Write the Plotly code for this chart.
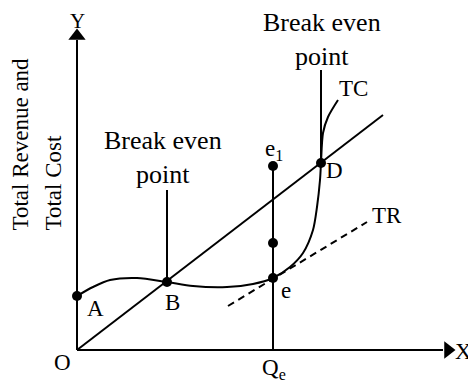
import plotly.graph_objects as go

# Chart units: origin O at (0, 0), quantity to the right, money upwards
tc_x = [0, 16, 33, 60, 90, 116, 150, 176, 196, 213, 226, 236, 240, 243, 244, 246, 251, 261]
tc_y = [54, 63, 70, 72, 68, 64, 63, 66, 72, 83, 97, 120, 143, 170, 187, 217, 233, 250]

tr_x = [0, 306]
tr_y = [0, 235]

tangent_x = [151, 290]
tangent_y = [44, 128]

dots_x = [0, 90, 196, 244, 196, 196]
dots_y = [54, 68, 72, 187, 184, 107]

bep_left_x = [90, 90]
bep_left_y = [68, 160]
bep_right_x = [244, 244]
bep_right_y = [187, 280]
qe_x = [196, 196]
qe_y = [0, 184]

x_axis_end = 378
y_axis_end = 322

BLACK = "black"
FONT = "Liberation Serif"

fig = go.Figure()

def line(x, y, dash="solid"):
    fig.add_trace(go.Scatter(x=x, y=y, mode="lines",
                             line=dict(color=BLACK, width=2, dash=dash),
                             hoverinfo="skip", showlegend=False))

# axes
line([0, x_axis_end - 12], [0, 0])
line([0, 0], [0, y_axis_end - 12])
fig.add_trace(go.Scatter(x=[x_axis_end - 7], y=[0], mode="markers",
                         marker=dict(symbol="triangle-right", size=15, color=BLACK),
                         hoverinfo="skip", showlegend=False))
fig.add_trace(go.Scatter(x=[0], y=[y_axis_end - 8], mode="markers",
                         marker=dict(symbol="triangle-up", size=15, color=BLACK),
                         hoverinfo="skip", showlegend=False))

# TR, tangent, TC
line(tr_x, tr_y)
line(tangent_x, tangent_y, dash="7px,5px")
fig.add_trace(go.Scatter(x=tc_x, y=tc_y, mode="lines",
                         line=dict(color=BLACK, width=2, shape="spline", smoothing=0.8),
                         hoverinfo="skip", showlegend=False))

# guide lines
line(bep_left_x, bep_left_y)
line(bep_right_x, bep_right_y)
line(qe_x, qe_y)

fig.add_trace(go.Scatter(x=dots_x, y=dots_y, mode="markers",
                         marker=dict(size=10, color=BLACK),
                         hoverinfo="skip", showlegend=False))

labels = [
    ("X", 386, -1), ("O", -15, -12), ("A", 18, 42), ("B", 95, 48),
    ("e", 209, 60), ("D", 257, 180), ("e<sub>1</sub>", 197, 200),
    ("Q<sub>e</sub>", 197, -19), ("TC", 276, 262), ("TR", 310, 135),
]
for txt, x, y in labels:
    fig.add_annotation(x=x, y=y, text=txt, showarrow=False,
                       font=dict(family=FONT, size=23, color=BLACK))

fig.add_annotation(x=0, y=342, text="Y", showarrow=False, yanchor="top",
                   borderpad=0, font=dict(family=FONT, size=21, color=BLACK))

for x, y in [(86, 193), (245, 311)]:
    fig.add_annotation(x=x, y=y, text="Break even<br>point", showarrow=False,
                       font=dict(family=FONT, size=26, color=BLACK))

for txt, x in [("Total Revenue and", -57), ("Total Cost", -24)]:
    fig.add_annotation(x=x, y=117, text=txt, showarrow=False, textangle=-90,
                       yanchor="bottom",
                       font=dict(family=FONT, size=23, color=BLACK))

# the page body adds an 8px margin, so the figure is shrunk by it and the ranges shifted
fig.update_layout(
    width=468, height=375,
    margin=dict(l=0, r=0, t=0, b=0),
    paper_bgcolor="white", plot_bgcolor="white",
    xaxis=dict(range=[-69, 399], visible=False, fixedrange=True),
    yaxis=dict(range=[-33, 342], visible=False, fixedrange=True),
)

fig.write_html("out.html")
